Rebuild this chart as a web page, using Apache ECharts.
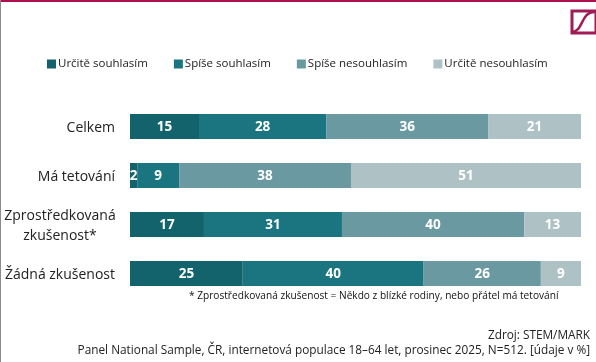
<!DOCTYPE html>
<html><head><meta charset="utf-8">
<style>html,body{margin:0;padding:0;background:#fff}#c{width:596px;height:362px}</style>
<script src="https://cdn.jsdelivr.net/npm/echarts@6/dist/echarts.min.js"></script>
</head><body><div id="c"></div>
<script>
const categories = ['Celkem', 'Má tetování', 'Zprostředkovaná\nzkušenost*', 'Žádná zkušenost'];
const seriesNames = ['Určitě souhlasím', 'Spíše souhlasím', 'Spíše nesouhlasím', 'Určitě nesouhlasím'];
const colors = ['#12636b', '#1a7580', '#6b99a1', '#aec1c5'];
// bar lengths as drawn
const v1 = [15.3, 1.6, 16.4, 25.0];
const v2 = [28.2, 9.3, 30.6, 40.1];
const v3 = [35.9, 38.1, 40.4, 26.0];
const v4 = [20.6, 51.0, 12.6, 8.9];
// rounded values as printed
const t1 = [15, 2, 17, 25];
const t2 = [28, 9, 31, 40];
const t3 = [36, 38, 40, 26];
const t4 = [21, 51, 13, 9];
const font = '"Open Sans","Noto Sans",sans-serif';
const mk = (i, vals, txt) => ({
  name: seriesNames[i], type: 'bar', stack: 'a', barWidth: 25, data: vals,
  itemStyle: {color: colors[i]},
  label: {show: true, position: 'inside', offset: [0, 1], color: '#fff', fontFamily: font, fontWeight: 'bold', fontSize: 13.5,
    formatter: p => txt[p.dataIndex]}
});
const chart = echarts.init(document.getElementById('c'));
chart.setOption({
  animation: false,
  grid: {left: 130, right: 15, top: 102, height: 196},
  legend: {
    top: 53, left: 42, itemWidth: 9, itemHeight: 9, itemGap: 26, icon: 'rect',
    textStyle: {fontFamily: font, fontSize: 11.5, color: '#222', padding: [0, 0, 0, -3]},
    data: seriesNames
  },
  xAxis: {type: 'value', min: 0, max: 100, show: false},
  yAxis: {type: 'category', inverse: true, data: categories,
    axisLine: {show: false}, axisTick: {show: false},
    axisLabel: {fontFamily: font, fontSize: 14, color: '#222', margin: 15, lineHeight: 20, align: 'right', padding: [3, 0, 0, 0],
      formatter: v => v.includes('\n') ? v.split('\n').map(s => '{c|' + s + '}').join('\n') : v,
      rich: {c: {width: 110, align: 'center', fontFamily: font, fontSize: 14, color: '#222', lineHeight: 20}}}},
  series: [mk(0, v1, t1), mk(1, v2, t2), mk(2, v3, t3), mk(3, v4, t4)],
  graphic: [
    {type: 'rect', shape: {x: 0, y: 0, width: 596, height: 2}, style: {fill: '#b0104f'}},
    {type: 'rect', shape: {x: 0, y: 0, width: 1, height: 362}, style: {fill: '#8c8c8c'}},
    {type: 'text', x: 590, y: 330, style: {text: 'Zdroj: STEM/MARK', align: 'right', fontFamily: font, fontSize: 11.8, fill: '#222'}},
    {type: 'text', x: 590, y: 345, style: {text: 'Panel National Sample, ČR, internetová populace 18–64 let, prosinec 2025, N=512. [údaje v %]', align: 'right', fontFamily: font, fontSize: 11.8, fill: '#222'}},
    {type: 'text', x: 189, y: 291, style: {text: '* Zprostředkovaná zkušenost = Někdo z blízké rodiny, nebo přátel má tetování', fontFamily: font, fontSize: 10.15, fill: '#111'}},
    {type: 'rect', shape: {x: 572, y: 11, width: 24, height: 22}, style: {fill: '#fff', stroke: '#a01c56', lineWidth: 3}},
    {type: 'bezierCurve', shape: {x1: 572, y1: 32, cpx1: 584, cpy1: 31, cpx2: 580, cpy2: 12, x2: 595, y2: 12}, style: {fill: 'none', stroke: '#a01c56', lineWidth: 2.5}}
  ]
});
</script></body></html>
